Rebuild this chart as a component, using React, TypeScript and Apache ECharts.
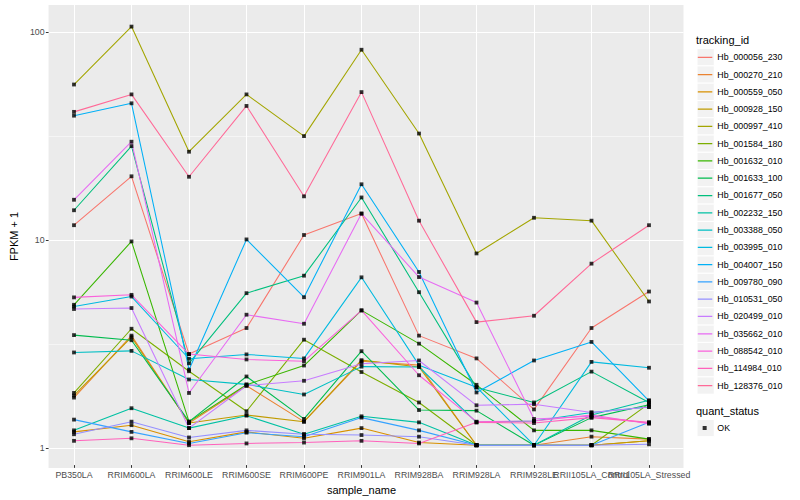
import { useEffect, useRef } from 'react';
import * as echarts from 'echarts';

const categories = [
  'PB350LA', 'RRIM600LA', 'RRIM600LE', 'RRIM600SE', 'RRIM600PE', 'RRIM901LA',
  'RRIM928BA', 'RRIM928LA', 'RRIM928LE', 'RRII105LA_Control', 'RRII105LA_Stressed',
];

const trackingIds = [
  'Hb_000056_230', 'Hb_000270_210', 'Hb_000559_050', 'Hb_000928_150', 'Hb_000997_410',
  'Hb_001584_180', 'Hb_001632_010', 'Hb_001633_100', 'Hb_001677_050', 'Hb_002232_150',
  'Hb_003388_050', 'Hb_003995_010', 'Hb_004007_150', 'Hb_009780_090', 'Hb_010531_050',
  'Hb_020499_010', 'Hb_035662_010', 'Hb_088542_010', 'Hb_114984_010', 'Hb_128376_010',
];

const colors = [
  '#F8766D', '#EA8331', '#D89000', '#C09B00', '#A3A500', '#7CAE00', '#39B600', '#00BB4E',
  '#00BF7D', '#00C1A3', '#00BFC4', '#00BAE0', '#00B0F6', '#35A2FF', '#9590FF', '#C77CFF',
  '#E76BF3', '#FA62DB', '#FF62BC', '#FF6A98',
];

// FPKM + 1 per sample, in category order
const hb000056_230 = [11.6, 20.0, 2.76, 3.69, 10.4, 13.2, 3.39, 2.63, 1.49, 3.69, 5.54];
const hb000270_210 = [1.70, 3.39, 1.28, 1.94, 1.30, 2.55, 2.44, 1.0, 1.0, 1.10, 1.07];
const hb000559_050 = [1.16, 1.25, 1.04, 1.16, 1.08, 1.21, 1.03, 1.0, 1.0, 1.0, 1.05];
const hb000928_150 = [1.74, 3.33, 1.28, 1.40, 1.30, 2.58, 2.39, 1.0, 1.0, 1.0, 1.05];
const hb000997_410 = [55.6, 106, 26.3, 49.8, 31.3, 81.9, 32.2, 8.47, 12.6, 12.2, 4.96];
const hb001584_180 = [1.79, 3.66, 2.28, 1.46, 3.24, 2.26, 1.61, 1.0, 1.0, 1.0, 1.59];
const hb001632_010 = [4.78, 9.68, 1.30, 1.96, 2.43, 4.49, 3.10, 1.96, 1.18, 1.18, 1.07];
const hb001633_100 = [3.41, 3.22, 1.30, 2.15, 1.34, 2.85, 1.48, 1.47, 1.0, 1.36, 1.57];
const hb001677_050 = [13.7, 28.0, 2.49, 5.44, 6.61, 15.8, 5.50, 1.90, 1.61, 2.27, 1.61];
const hb002232_150 = [1.18, 1.51, 1.21, 1.39, 1.13, 1.38, 1.29, 1.0, 1.0, 1.40, 1.65];
const hb003388_050 = [2.81, 2.86, 2.08, 1.97, 1.76, 2.40, 2.39, 1.29, 1.31, 1.44, 1.53];
const hb003995_010 = [4.69, 5.24, 2.62, 2.75, 2.63, 6.49, 2.44, 1.91, 1.0, 2.53, 2.37];
const hb004007_150 = [39.3, 45.1, 2.32, 9.9, 5.20, 18.3, 6.89, 1.80, 2.57, 3.16, 1.64];
const hb009780_090 = [1.33, 1.16, 1.02, 1.15, 1.10, 1.36, 1.18, 1.0, 1.0, 1.0, 1.29];
const hb010531_050 = [1.13, 1.30, 1.09, 1.18, 1.13, 1.12, 1.10, 1.0, 1.0, 1.0, 1.01];
const hb020499_010 = [4.56, 4.61, 1.21, 1.94, 2.05, 2.48, 2.57, 1.56, 1.58, 1.44, 1.53];
const hb035662_010 = [15.4, 29.4, 1.79, 4.28, 3.87, 13.2, 6.51, 4.90, 1.34, 1.38, 1.28];
const hb088542_010 = [5.19, 5.34, 2.76, 2.60, 2.55, 4.49, 2.18, 1.30, 1.31, 1.40, 1.27];
const hb114984_010 = [1.05, 1.08, 1.0, 1.02, 1.03, 1.05, 1.02, 1.29, 1.28, 1.36, 1.29];
const hb128376_010 = [41.0, 49.8, 19.9, 43.8, 16.0, 51.1, 12.2, 3.94, 4.23, 7.56, 11.6];

const seriesValues = [
  hb000056_230, hb000270_210, hb000559_050, hb000928_150, hb000997_410,
  hb001584_180, hb001632_010, hb001633_100, hb001677_050, hb002232_150,
  hb003388_050, hb003995_010, hb004007_150, hb009780_090, hb010531_050,
  hb020499_010, hb035662_010, hb088542_010, hb114984_010, hb128376_010,
];

const quantStatus = ['OK'];
const yTicks = [1, 10, 100];

export default function App() {
  const ref = useRef<HTMLDivElement>(null);

  useEffect(() => {
    if (!ref.current) return;
    const chart = echarts.init(ref.current, undefined, { renderer: 'svg' });
    const font = '"Liberation Sans", Arial, Helvetica, sans-serif';
    const yMin = Math.pow(10, -0.0962);
    const yMax = Math.pow(10, 2.1298);
    const keyTop = 48.6;
    const keyH = 17.28;
    const lineIcon = 'path://M0,0h0.01v0.01h-0.01z M15.29,17.27h0.01v0.01h-0.01z M0.8,8.05h14.5v1.25h-14.5z';
    const pointIcon = 'path://M0,0h0.01v0.01h-0.01z M15.29,17.27h0.01v0.01h-0.01z M5.65,6.64h4v4h-4z';

    const lineSeries = trackingIds.map((id, i) => ({
      type: 'line',
      name: id,
      xAxisIndex: 1,
      yAxisIndex: 1,
      data: seriesValues[i],
      color: colors[i],
      showSymbol: false,
      symbol: 'none',
      silent: true,
      lineStyle: { width: 1.07, color: colors[i] },
      emphasis: { disabled: true },
      z: 2,
    }));

    const points: [number, number][] = [];
    seriesValues.forEach((vals) => vals.forEach((v, j) => points.push([j, v])));

    const keyRects: any[] = trackingIds.map((_, i) => ({
      type: 'rect',
      shape: { x: 697, y: keyTop + i * keyH, width: keyH, height: keyH },
      style: { fill: '#F2F2F2', stroke: '#FFFFFF', lineWidth: 1 },
      z: 0,
      silent: true,
    }));
    keyRects.push({
      type: 'rect',
      shape: { x: 697, y: 419.4, width: keyH, height: keyH },
      style: { fill: '#F2F2F2', stroke: '#FFFFFF', lineWidth: 1 },
      z: 0,
      silent: true,
    });

    const option: any = {
      animation: false,
      backgroundColor: '#FFFFFF',
      textStyle: { fontFamily: font },
      grid: [
        { left: 39.5, right: 116.5, top: 5, bottom: 32, show: true, backgroundColor: '#EBEBEB', borderWidth: 0 },
        { left: 74, right: 151, top: 5, bottom: 32 },
      ],
      xAxis: [
        { type: 'value', gridIndex: 0, min: 0, max: 1, show: false },
        {
          type: 'category',
          gridIndex: 1,
          data: categories,
          boundaryGap: false,
          axisLine: { show: false },
          axisTick: { show: true, length: 2.75, interval: 0, lineStyle: { color: '#333333', width: 1 } },
          axisLabel: { interval: 0, color: '#4D4D4D', fontSize: 8.8, margin: 5, fontFamily: font, hideOverlap: false },
          splitLine: { show: true, interval: 0, lineStyle: { color: '#FFFFFF', width: 1.07 } },
          name: 'sample_name',
          nameLocation: 'middle',
          nameGap: 13,
          nameTextStyle: { color: '#000000', fontSize: 11, fontFamily: font, verticalAlign: 'top' },
        },
      ],
      yAxis: [
        {
          type: 'log',
          gridIndex: 0,
          logBase: 10,
          min: yMin,
          max: yMax,
          axisLine: { show: false },
          axisTick: { show: true, length: 2.75, customValues: yTicks, lineStyle: { color: '#333333', width: 1 } },
          axisLabel: {
            color: '#4D4D4D',
            fontSize: 8.8,
            margin: 4,
            fontFamily: font,
            formatter: (v: number) => {
              const hit = yTicks.find((t) => Math.abs(t - v) / t < 1e-6);
              return hit !== undefined ? String(hit) : '';
            },
          },
          splitLine: { show: true, lineStyle: { color: '#FFFFFF', width: 1.07 } },
          name: 'FPKM + 1',
          nameLocation: 'middle',
          nameGap: 22,
          nameTextStyle: { color: '#000000', fontSize: 11, fontFamily: font },
        },
        { type: 'log', gridIndex: 1, logBase: 10, min: yMin, max: yMax, show: false },
      ],
      legend: [
        {
          data: trackingIds,
          orient: 'vertical',
          left: 697,
          top: keyTop,
          padding: 0,
          itemGap: 0,
          itemWidth: 15.3,
          itemHeight: keyH,
          icon: lineIcon,
          symbolKeepAspect: false,
          selectedMode: false,
          textStyle: { color: '#000000', fontSize: 8.8, fontFamily: font },
        },
        {
          data: quantStatus,
          orient: 'vertical',
          left: 697,
          top: 419.4,
          padding: 0,
          itemGap: 0,
          itemWidth: 15.3,
          itemHeight: keyH,
          icon: pointIcon,
          symbolKeepAspect: false,
          selectedMode: false,
          textStyle: { color: '#000000', fontSize: 8.8, fontFamily: font },
        },
      ],
      graphic: [
        ...keyRects,
        {
          type: 'text',
          x: 696,
          y: 40,
          style: { text: 'tracking_id', fill: '#000000', fontSize: 11, fontFamily: font, verticalAlign: 'middle' },
          silent: true,
        },
        {
          type: 'text',
          x: 696,
          y: 411,
          style: { text: 'quant_status', fill: '#000000', fontSize: 11, fontFamily: font, verticalAlign: 'middle' },
          silent: true,
        },
      ],
      series: [
        {
          type: 'line',
          name: '__minor_grid',
          xAxisIndex: 0,
          yAxisIndex: 0,
          data: [],
          silent: true,
          markLine: {
            silent: true,
            z: 1,
            symbol: 'none',
            label: { show: false },
            emphasis: { disabled: true },
            lineStyle: { color: '#FFFFFF', width: 0.53, type: 'solid' },
            data: [{ yAxis: Math.sqrt(10) }, { yAxis: Math.pow(10, 1.5) }],
          },
        },
        ...lineSeries,
        {
          type: 'scatter',
          name: 'OK',
          xAxisIndex: 1,
          yAxisIndex: 1,
          data: points,
          symbol: 'rect',
          symbolSize: 3.8,
          color: '#000000',
          itemStyle: { color: '#000000' },
          silent: true,
          emphasis: { disabled: true },
          z: 3,
        },
      ],
    };

    chart.setOption(option);
    return () => chart.dispose();
  }, []);

  return (
    <div
      ref={ref}
      style={{ position: 'fixed', left: 0, top: 0, width: 800, height: 500 }}
    />
  );
}
